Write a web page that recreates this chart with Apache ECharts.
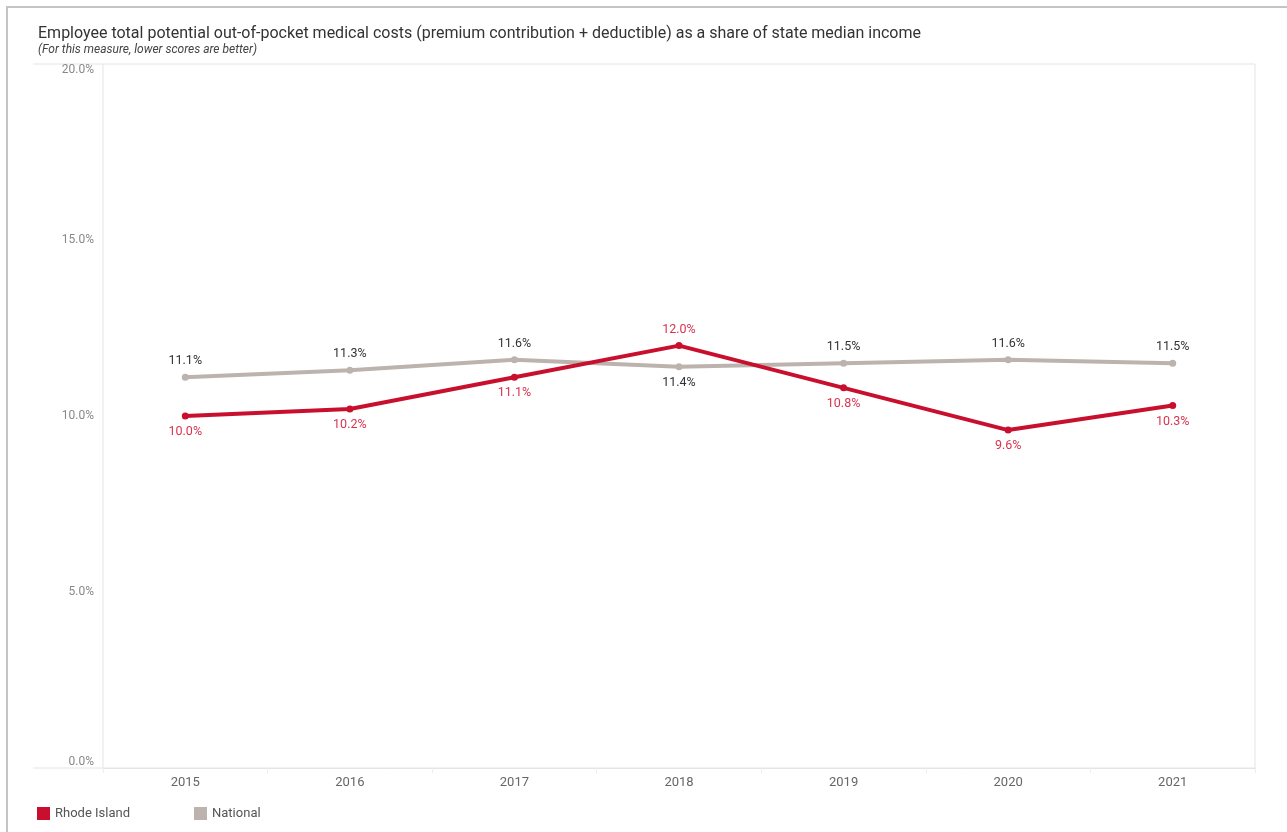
<!DOCTYPE html>
<html>
<head>
<meta charset="utf-8">
<script src="https://cdn.jsdelivr.net/npm/echarts@6/dist/echarts.min.js"></script>
<style>
html, body { margin: 0; padding: 0; background: #fff; }
#frame {
    position: absolute; left: 6px; top: 6px; width: 1290px; height: 840px;
    border-left: 2px solid #c4c4c4; border-top: 2px solid #c4c4c4;
}
#chart { position: absolute; left: 0; top: 0; width: 1287px; height: 832px; }
</style>
</head>
<body>
<div id="frame"></div>
<div id="chart"></div>
<script>
var years = ['2015', '2016', '2017', '2018', '2019', '2020', '2021'];
var rhodeIsland = [10.0, 10.2, 11.1, 12.0, 10.8, 9.6, 10.3];
var national = [11.1, 11.3, 11.6, 11.4, 11.5, 11.6, 11.5];
// label above (true) or below (false) each point
var riAbove = [false, false, false, true, false, false, false];
var natAbove = [true, true, true, false, true, true, true];

var chart = echarts.init(document.getElementById('chart'));

function withLabels(values, above) {
    return values.map(function (v, i) {
        return { value: v, label: { position: above[i] ? 'top' : 'bottom' } };
    });
}

var option = {
    animation: false,
    textStyle: { fontFamily: 'Roboto, "Noto Sans", sans-serif' },
    title: {
        text: 'Employee total potential out-of-pocket medical costs (premium contribution + deductible) as a share of state median income',
        subtext: '(For this measure, lower scores are better)',
        left: 33,
        top: 21,
        itemGap: 2,
        textStyle: { fontSize: 16, fontWeight: 'normal', color: '#333' },
        subtextStyle: { fontSize: 12, fontStyle: 'italic', color: '#444' }
    },
    legend: {
        left: 32,
        top: 802,
        icon: 'rect',
        itemWidth: 13,
        itemHeight: 13,
        itemGap: 64,
        textStyle: { fontSize: 13, color: '#555' },
        data: ['Rhode Island', 'National']
    },
    grid: {
        left: 103,
        right: 32,
        top: 64,
        bottom: 64,
        show: true,
        borderColor: '#e4e4e4',
        borderWidth: 1
    },
    graphic: [
        { type: 'line', shape: { x1: 33, y1: 64, x2: 103, y2: 64 }, style: { stroke: '#e4e4e4', lineWidth: 1 } },
        { type: 'line', shape: { x1: 33, y1: 768, x2: 103, y2: 768 }, style: { stroke: '#e4e4e4', lineWidth: 1 } }
    ],
    xAxis: {
        type: 'category',
        data: years,
        boundaryGap: true,
        axisLine: { lineStyle: { color: '#e4e4e4' } },
        axisTick: { show: true, length: 5, lineStyle: { color: '#eeeeee' } },
        axisLabel: { color: '#666', fontSize: 13, margin: 8 }
    },
    yAxis: {
        type: 'value',
        min: 0,
        max: 20,
        interval: 5,
        axisLine: { show: false },
        axisTick: { show: false },
        splitLine: { show: false },
        axisLabel: {
            color: '#888',
            fontSize: 12,
            margin: 9,
            verticalAlignMinLabel: 'bottom',
            verticalAlignMaxLabel: 'top',
            formatter: function (v) { return v.toFixed(1) + '%'; }
        }
    },
    series: [
        {
            name: 'National',
            type: 'line',
            data: withLabels(national, natAbove),
            symbol: 'circle',
            symbolSize: 7,
            z: 2,
            lineStyle: { width: 4, color: '#bcb3ae' },
            itemStyle: { color: '#bcb3ae' },
            label: {
                show: true,
                fontSize: 12.5,
                color: '#333',
                distance: 6,
                formatter: function (p) { return p.value.toFixed(1) + '%'; }
            }
        },
        {
            name: 'Rhode Island',
            type: 'line',
            data: withLabels(rhodeIsland, riAbove),
            symbol: 'circle',
            symbolSize: 7,
            z: 3,
            lineStyle: { width: 4, color: '#c8102e' },
            itemStyle: { color: '#c8102e' },
            label: {
                show: true,
                fontSize: 12.5,
                color: '#d9334f',
                distance: 6,
                formatter: function (p) { return p.value.toFixed(1) + '%'; }
            }
        }
    ]
};

chart.setOption(option);
</script>
</body>
</html>
